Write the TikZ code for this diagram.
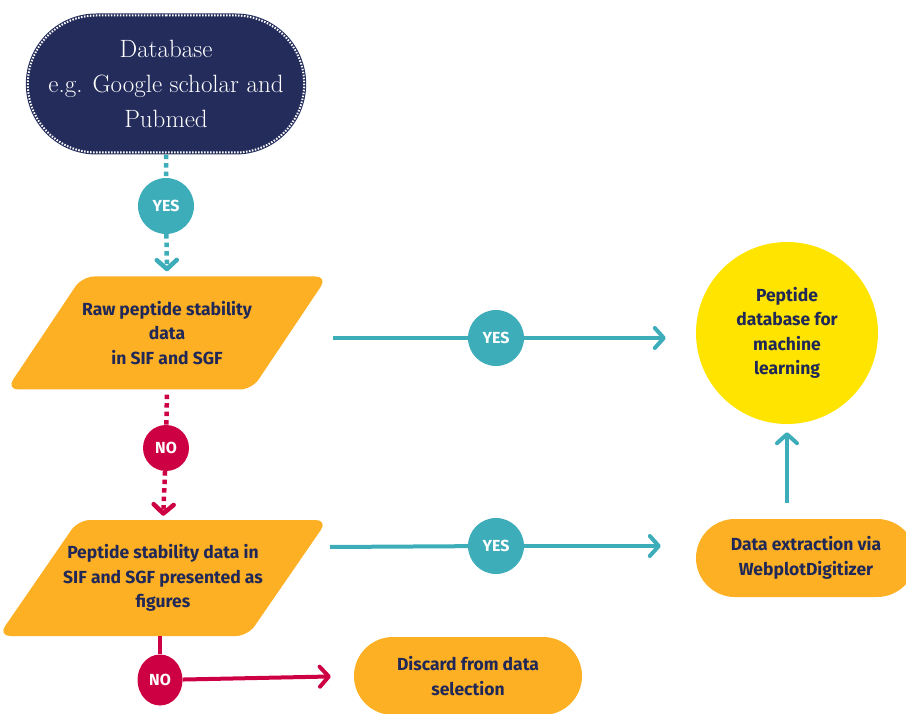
\documentclass[tikz,border=0pt]{standalone}
\usepackage{fontspec}
\setsansfont{Fira Sans}
\usetikzlibrary{shapes.geometric, shapes.misc, arrows.meta, calc, positioning}
\definecolor{dbnavy}{RGB}{36,44,92}
\definecolor{txtnavy}{RGB}{32,40,88}
\definecolor{yesteal}{RGB}{60,173,185}
\definecolor{boxorange}{RGB}{253,176,36}
\definecolor{goalyellow}{RGB}{255,228,0}
\definecolor{nored}{RGB}{206,0,68}

\begin{document}
\begin{tikzpicture}[x=1pt,y=1pt,yscale=-1,
  lbl/.style={text=txtnavy, font=\sffamily\bfseries\fontsize{17.5}{24.5}\selectfont, align=center},
  inbox/.style={lbl, trapezium, trapezium left angle=40, trapezium right angle=140, trapezium stretches body=true, fill=boxorange, rounded corners=12, inner sep=0pt},
  endbox/.style={lbl, rounded rectangle, fill=boxorange, inner sep=0pt},
  yesdot/.style={circle, fill=yesteal, text=white, minimum size=56, inner sep=0pt, font=\sffamily\bfseries\fontsize{16}{16}\selectfont},
  nodot/.style={ellipse, fill=nored, text=white, minimum width=46, minimum height=46, inner sep=0pt, font=\sffamily\bfseries\fontsize{16}{16}\selectfont},
  chev/.style={-{Straight Barb[length=9pt,width=20pt,line cap=round,line join=round]}},
  dots/.style={line width=4.5, dash pattern=on 4.5 off 4},
  link/.style={line width=4, chev}
]
\useasboundingbox (0,0) rectangle (906,714);

% Shapes
\node (db) [rounded rectangle, fill=dbnavy, draw=dbnavy, line width=4, minimum width=283, minimum height=137, text=white, align=center, font=\fontsize{25}{35}\selectfont,
  postaction={draw=white, line width=2, dash pattern=on 1.5 off 1.5}] at (166,84) {Database\\e.g. Google scholar and\\Pubmed};
\node (yes1) [yesdot] at (166,206) {YES};
\node (raw) [inbox, minimum width=310, minimum height=113] at (167,333) {Raw peptide stability\\data\\in SIF and SGF};
\node (no1) [nodot] at (166,448) {NO};
\node (fig) [inbox, inner xsep=-15, minimum width=310, minimum height=116] at (163,578) {Peptide stability data in\\SIF and SGF presented as\\figures};
\node (no2) [nodot, minimum width=45, minimum height=51] at (160,680) {NO};
\node (discard) [endbox, minimum width=228, minimum height=78] at (468,676) {Discard from data\\selection};
\node (goal) [lbl, circle, fill=goalyellow, minimum size=182, inner sep=0pt] at (787,333) {Peptide\\database for\\machine\\learning};
\node (extract) [endbox, minimum width=220, minimum height=78] at (806,558) {Data extraction via\\WebplotDigitizer};
\node (yes2) [yesdot] at (496,338) {YES};
\node (yes3) [yesdot] at (496,546) {YES};
\coordinate (rawout) at (333,338);
\coordinate (figout) at (330,547);

% Connectors
\draw [dots, color=yesteal] (db) -- (yes1);
\draw [dots, color=yesteal, chev, shorten >=5] (yes1) -- (raw.north);
\draw [dots, color=nored, shorten <=5] (raw.south) -- (no1);
\draw [dots, color=nored, chev, shorten >=4] (no1) -- (fig.north);
\draw [line width=4, color=yesteal] (rawout) -- (yes2);
\draw [link, color=yesteal] (yes2) -- ($(goal.west |- yes2)+(-30,0)$);
\draw [line width=4, color=yesteal] (figout) -- (yes3);
\draw [link, color=yesteal] (yes3) -- ($(extract.west |- yes3)+(-35,0)$);
\draw [link, color=yesteal, shorten <=16, shorten >=8] (goal.south |- extract.north) -- (goal.south);
\draw [line width=4, color=nored] (no2 |- fig.south) -- (no2);
\draw [link, color=nored, shorten >=23] (no2) -- (discard.west);

\end{tikzpicture}
\end{document}
